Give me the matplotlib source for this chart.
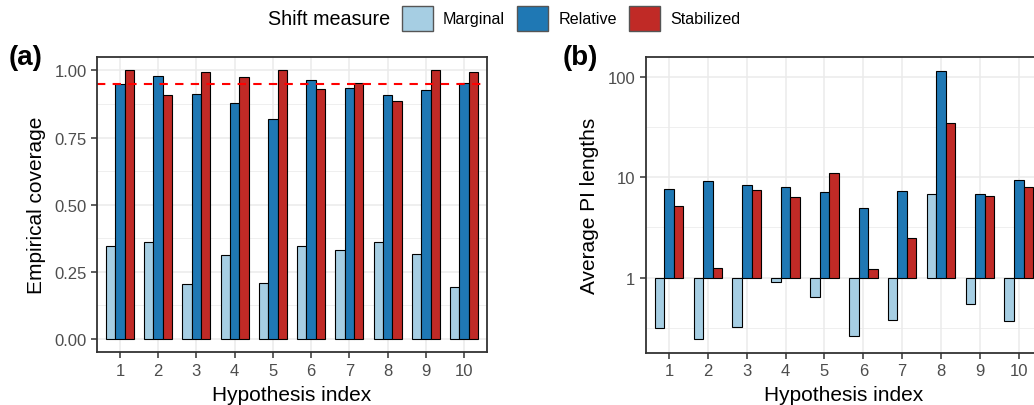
import numpy as np
import matplotlib
matplotlib.use("Agg")
from matplotlib import pyplot as plt
from matplotlib.patches import Patch
from matplotlib.ticker import FixedLocator, NullFormatter

plt.rcParams['font.family'] = ['Liberation Sans', 'DejaVu Sans']

# Data
hypotheses = [1, 2, 3, 4, 5, 6, 7, 8, 9, 10]
measures = ['Marginal', 'Relative', 'Stabilized']
colors = ['#A6CEE3', '#1F78B4', '#C02A26']

coverage_marginal = [0.346, 0.359, 0.205, 0.313, 0.207, 0.347, 0.331, 0.359, 0.315, 0.192]
coverage_relative = [0.948, 0.978, 0.913, 0.877, 0.818, 0.965, 0.933, 0.907, 0.927, 0.955]
coverage_stabilized = [1.000, 0.909, 0.993, 0.975, 1.000, 0.930, 0.955, 0.887, 1.000, 0.993]
nominal_level = 0.95

length_marginal = [0.316, 0.244, 0.324, 0.906, 0.643, 0.263, 0.377, 6.73, 0.548, 0.374]
length_relative = [7.6, 9.19, 8.27, 7.95, 7.04, 4.89, 7.2, 114.0, 6.83, 9.27]
length_stabilized = [5.19, 1.25, 7.48, 6.28, 10.9, 1.22, 2.5, 34.7, 6.48, 7.95]

coverage = [coverage_marginal, coverage_relative, coverage_stabilized]
lengths = [length_marginal, length_relative, length_stabilized]

fig = plt.figure(figsize=(10.34, 4.06), dpi=100)
ax_a = fig.add_axes([0.0938, 0.130, 0.3772, 0.727])
ax_b = fig.add_axes([0.6245, 0.129, 0.3833, 0.727])  # runs past the right edge, like the cropped original

x = np.array(hypotheses, dtype=float)
bar_w = 0.245
offsets = [-bar_w, 0.0, bar_w]

grid_col = '#EBEBEB'
spine_col = '#333333'


def style_axes(ax):
    ax.set_axisbelow(True)
    for s in ax.spines.values():
        s.set_color(spine_col)
        s.set_linewidth(1.3)
    ax.grid(which='major', color=grid_col, linewidth=1.1)
    ax.grid(which='minor', axis='y', color=grid_col, linewidth=0.55)
    ax.tick_params(axis='both', which='major', colors=spine_col, labelcolor='#4D4D4D',
                   labelsize=12, length=4, width=1.1)
    ax.tick_params(axis='both', which='minor', length=0)
    ax.set_xticks(hypotheses)
    ax.set_xlim(0.4, 10.6)
    ax.set_xlabel('Hypothesis index', fontsize=15, labelpad=5)


# (a) coverage
for vals, off, c in zip(coverage, offsets, colors):
    ax_a.bar(x + off, vals, width=bar_w, color=c, edgecolor='black', linewidth=0.8)
ax_a.axhline(nominal_level, color='#FF0000', linestyle=(0, (4, 3.5)), linewidth=1.5)
ax_a.set_ylim(-0.05, 1.05)
ax_a.set_yticks([0, 0.25, 0.5, 0.75, 1.0])
ax_a.set_yticklabels(['0.00', '0.25', '0.50', '0.75', '1.00'])
ax_a.yaxis.set_minor_locator(FixedLocator([0.125, 0.375, 0.625, 0.875]))
style_axes(ax_a)
ax_a.set_ylabel('Empirical coverage', fontsize=15, labelpad=6)

# (b) PI lengths, log scale, bars from 1
ax_b.set_yscale('log')
for vals, off, c in zip(lengths, offsets, colors):
    v = np.array(vals)
    ax_b.bar(x + off, v - 1.0, bottom=1.0, width=bar_w, color=c, edgecolor='black', linewidth=0.8)
logs = np.log10(np.concatenate([np.array(l) for l in lengths] + [np.array([1.0])]))
lo, hi = logs.min(), logs.max()
pad = 0.05 * (hi - lo)
ax_b.set_ylim(10 ** (lo - pad), 10 ** (hi + pad))
ax_b.yaxis.set_major_locator(FixedLocator([1, 10, 100]))
ax_b.set_yticklabels(['1', '10', '100'])
ax_b.yaxis.set_minor_locator(FixedLocator([10 ** -0.5, 10 ** 0.5, 10 ** 1.5]))
ax_b.yaxis.set_minor_formatter(NullFormatter())
style_axes(ax_b)
ax_b.set_ylabel('Average PI lengths', fontsize=15, labelpad=6)

fig.text(0.008, 0.858, '(a)', fontsize=20, fontweight='bold', va='center', ha='left')
fig.text(0.544, 0.858, '(b)', fontsize=20, fontweight='bold', va='center', ha='left')

# legend across the top
fig.text(268 / 1034, 0.953, 'Shift measure', fontsize=14.2, va='center', ha='left')
handles = [Patch(facecolor=c, edgecolor='#555555', linewidth=1.0, label=m)
           for c, m in zip(colors, measures)]
fig.legend(handles=handles, loc='center left', bbox_to_anchor=(401.7 / 1034, 0.953),
           ncol=3, frameon=False, fontsize=11.6, borderpad=0, borderaxespad=0,
           handlelength=1.93, handleheight=2.0, handletextpad=0.64, columnspacing=0.73)

fig.savefig('out.png', dpi=100)
